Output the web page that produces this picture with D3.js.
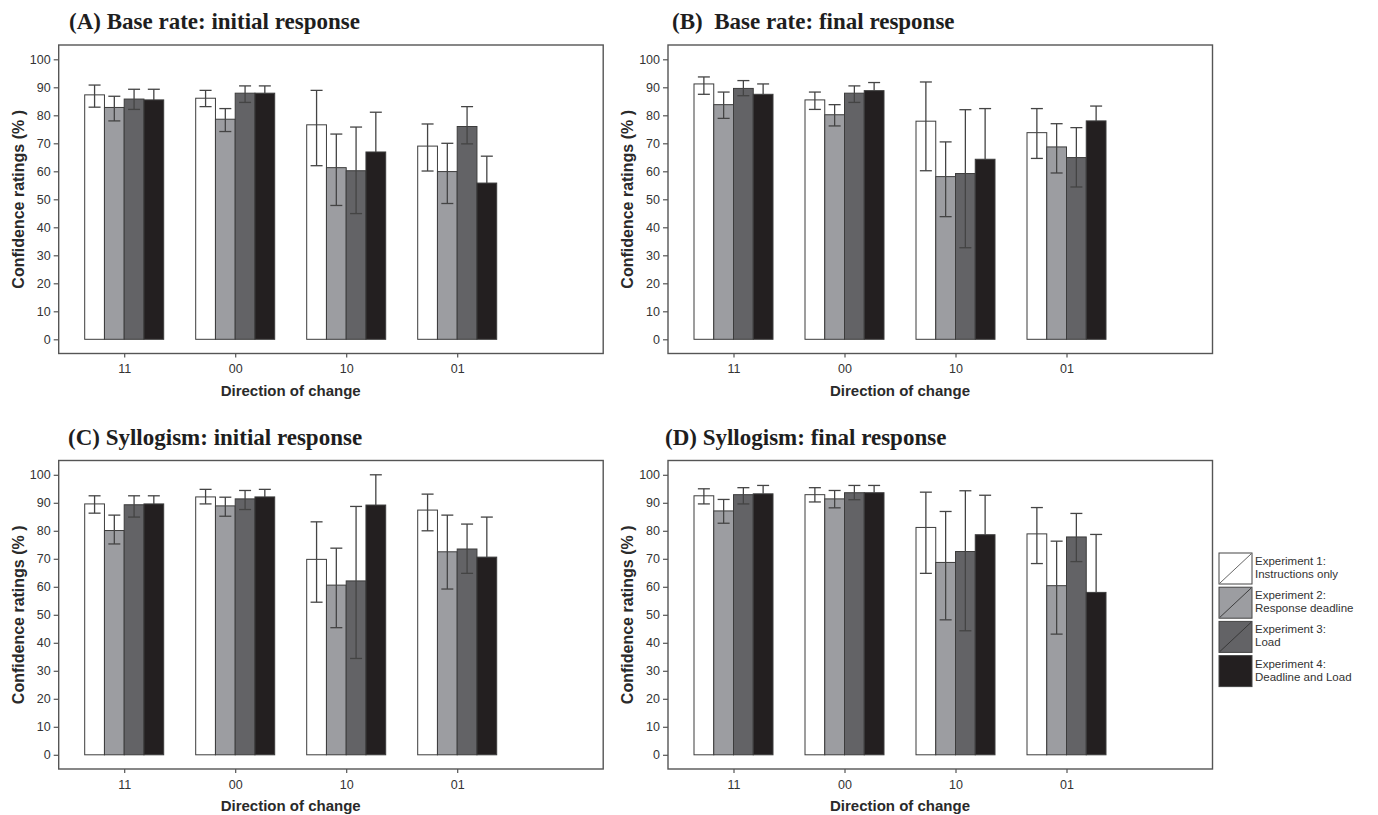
<!DOCTYPE html>
<html>
  <head>
    <meta charset="utf-8">
    <style type="text/css">
      body { margin: 0; background: #fff; }
      text { font-family: "Liberation Sans", Arial, sans-serif; fill: #2b2b2b; }
      .title { font-family: "Liberation Serif", "Times New Roman", serif; font-weight: bold; font-size: 23px; fill: #1e1e1e; white-space: pre; }
      .axis text { font-size: 12.5px; fill: #333; }
      .axis line { stroke: #555; stroke-width: 1.2px; }
      .lab { font-weight: bold; font-size: 15px; fill: #2a2a2a; }
      .ylab { font-size: 16px; white-space: pre; }
      .leg { font-size: 11.5px; fill: #333; }
    </style>
  </head>
  <body>
    <div id="canvas"></div>
    <script type="text/javascript" src="https://cdn.jsdelivr.net/npm/d3@7"></script>
    <script type="text/javascript">
      // categories and series
      var categories = ["11", "00", "10", "01"];
      var expTitles = ["Experiment 1:", "Experiment 2:", "Experiment 3:", "Experiment 4:"];
      var expSubs = ["Instructions only", "Response deadline", "Load", "Deadline and Load"];
      var yTicks = [0, 10, 20, 30, 40, 50, 60, 70, 80, 90, 100];
      var colors = ["#ffffff", "#9c9da1", "#636366", "#231f20"];

      // rows = direction of change, columns = experiment 1..4
      var baseInitMean = [[87.3, 82.8, 85.8, 85.5], [86.1, 78.6, 87.9, 87.9], [76.6, 61.3, 60.2, 66.9], [69.0, 59.9, 76.0, 55.8]];
      var baseInitLo   = [[82.9, 78.0, 82.1, 81.7], [83.1, 74.2, 84.6, 85.3], [62.0, 47.8, 44.9, 52.7], [60.1, 48.5, 69.8, 46.2]];
      var baseInitHi   = [[90.8, 86.8, 89.3, 89.3], [88.9, 82.4, 90.5, 90.5], [88.9, 73.3, 75.8, 81.1], [76.9, 70.0, 83.1, 65.4]];

      var baseFinMean = [[91.2, 83.8, 89.6, 87.5], [85.5, 80.2, 87.9, 88.8], [77.9, 58.1, 59.2, 64.3], [73.8, 68.7, 64.9, 78.0]];
      var baseFinLo   = [[87.5, 78.9, 87.0, 83.8], [82.1, 76.2, 84.6, 85.9], [60.2, 43.8, 32.7, 46.2], [64.6, 59.4, 54.4, 72.7]];
      var baseFinHi   = [[93.7, 88.3, 92.4, 91.2], [88.3, 83.8, 90.5, 91.7], [91.9, 70.5, 82.0, 82.4], [82.4, 77.0, 75.6, 83.3]];

      var sylInitMean = [[89.6, 80.1, 89.3, 89.6], [92.1, 88.9, 91.4, 92.1], [69.8, 60.6, 62.1, 89.2], [87.4, 72.5, 73.5, 70.6]];
      var sylInitLo   = [[86.3, 75.3, 84.9, 86.7], [89.6, 85.2, 87.6, 89.4], [54.5, 45.4, 34.4, 78.4], [80.0, 59.2, 64.8, 56.3]];
      var sylInitHi   = [[92.5, 85.6, 92.5, 92.5], [94.8, 92.0, 94.4, 94.8], [83.2, 73.8, 88.7, 100.0], [93.1, 85.6, 82.4, 84.9]];

      var sylFinMean = [[92.5, 87.1, 92.9, 93.2], [92.9, 91.4, 93.6, 93.6], [81.2, 68.7, 72.6, 78.6], [78.9, 60.4, 77.8, 58.0]];
      var sylFinLo   = [[89.6, 82.7, 89.6, 90.2], [90.3, 88.2, 91.1, 91.0], [64.8, 48.2, 44.3, 64.5], [68.3, 43.1, 69.0, 37.3]];
      var sylFinHi   = [[95.0, 91.2, 95.4, 96.2], [95.4, 94.4, 96.2, 96.2], [93.8, 86.9, 94.3, 92.7], [88.3, 76.3, 86.2, 78.7]];

      var panels = [
        {title: "(A) Base rate: initial response", mean: baseInitMean, lo: baseInitLo, hi: baseInitHi, left: 58.7, top: 45, tx: 69},
        {title: "(B)  Base rate: final response", mean: baseFinMean, lo: baseFinLo, hi: baseFinHi, left: 668, top: 45, tx: 672},
        {title: "(C) Syllogism: initial response", mean: sylInitMean, lo: sylInitLo, hi: sylInitHi, left: 58.7, top: 460.5, tx: 68},
        {title: "(D) Syllogism: final response", mean: sylFinMean, lo: sylFinLo, hi: sylFinHi, left: 668, top: 460.5, tx: 665}
      ];

      var W = 1378, H = 815, frameW = 544.5, frameH = 308.5;

      var svg = d3.select("#canvas").append("svg")
        .attr("width", W).attr("height", H);

      var drawPanel = function (p) {
        var g = svg.append("g");
        var y = d3.scaleLinear().domain([0, 100]).range([p.top + 294.3, p.top + 14.3]);
        var xc = d3.scalePoint().domain(categories).range([p.left + 65.5, p.left + 398.5]);
        var x1 = d3.scaleBand().domain(d3.range(4)).range([-39.5, 39.5]);

        g.append("text").attr("class", "title")
          .attr("x", p.tx).attr("y", p.top - 16)
          .text(p.title);

        g.append("rect")
          .attr("x", p.left).attr("y", p.top)
          .attr("width", frameW).attr("height", frameH)
          .attr("fill", "none").attr("stroke", "#555").attr("stroke-width", 1.4);

        var ya = g.append("g").attr("class", "axis")
          .attr("transform", "translate(" + p.left + ",0)")
          .call(d3.axisLeft(y).tickValues(yTicks).tickSize(5).tickPadding(3));
        ya.select(".domain").remove();

        var xa = g.append("g").attr("class", "axis")
          .attr("transform", "translate(0," + (p.top + frameH) + ")")
          .call(d3.axisBottom(xc).tickSize(4).tickPadding(7));
        xa.select(".domain").remove();

        g.append("text").attr("class", "lab ylab")
          .attr("text-anchor", "middle")
          .attr("transform", "translate(" + (p.left - 35) + "," + y(50) + ") rotate(-90)")
          .text("Confidence ratings (% )");

        g.append("text").attr("class", "lab")
          .attr("text-anchor", "middle")
          .attr("x", (xc(categories[0]) + xc(categories[3])) / 2)
          .attr("y", p.top + frameH + 42)
          .text("Direction of change");

        categories.forEach(function (c, i) {
          d3.range(4).forEach(function (j) {
            var m = p.mean[i][j];
            var cx = xc(c) + x1(j) + x1.bandwidth() / 2;
            g.append("rect")
              .attr("x", xc(c) + x1(j)).attr("y", y(m))
              .attr("width", x1.bandwidth()).attr("height", y(0) - y(m))
              .attr("fill", colors[j]).attr("stroke", "#3c3c3c").attr("stroke-width", 1);
            // on the black bars only the upper half of the error bar shows
            var lo = j === 3 ? m : p.lo[i][j];
            var eb = g.append("g").attr("stroke", "#444").attr("stroke-width", 1.3);
            eb.append("line").attr("x1", cx).attr("x2", cx)
              .attr("y1", y(lo)).attr("y2", y(p.hi[i][j]));
            (j === 3 ? [p.hi[i][j]] : [p.lo[i][j], p.hi[i][j]]).forEach(function (v) {
              eb.append("line").attr("x1", cx - 6).attr("x2", cx + 6)
                .attr("y1", y(v)).attr("y2", y(v));
            });
          });
        });
      };

      panels.forEach(drawPanel);

      // legend
      var leg = svg.append("g").attr("transform", "translate(1219,553)");
      expTitles.forEach(function (t, j) {
        var it = leg.append("g").attr("transform", "translate(0," + (j * 34.2) + ")");
        it.append("rect").attr("width", 33).attr("height", 31)
          .attr("fill", colors[j]).attr("stroke", "#444").attr("stroke-width", 1);
        if (j < 3) {
          it.append("line").attr("x1", 1).attr("y1", 30).attr("x2", 32).attr("y2", 1)
            .attr("stroke", j === 0 ? "#555" : "#333").attr("stroke-width", 0.9);
        }
        it.append("text").attr("class", "leg").attr("x", 36).attr("y", 12).text(t);
        it.append("text").attr("class", "leg").attr("x", 36).attr("y", 25).text(expSubs[j]);
      });
    </script>
  </body>
</html>
